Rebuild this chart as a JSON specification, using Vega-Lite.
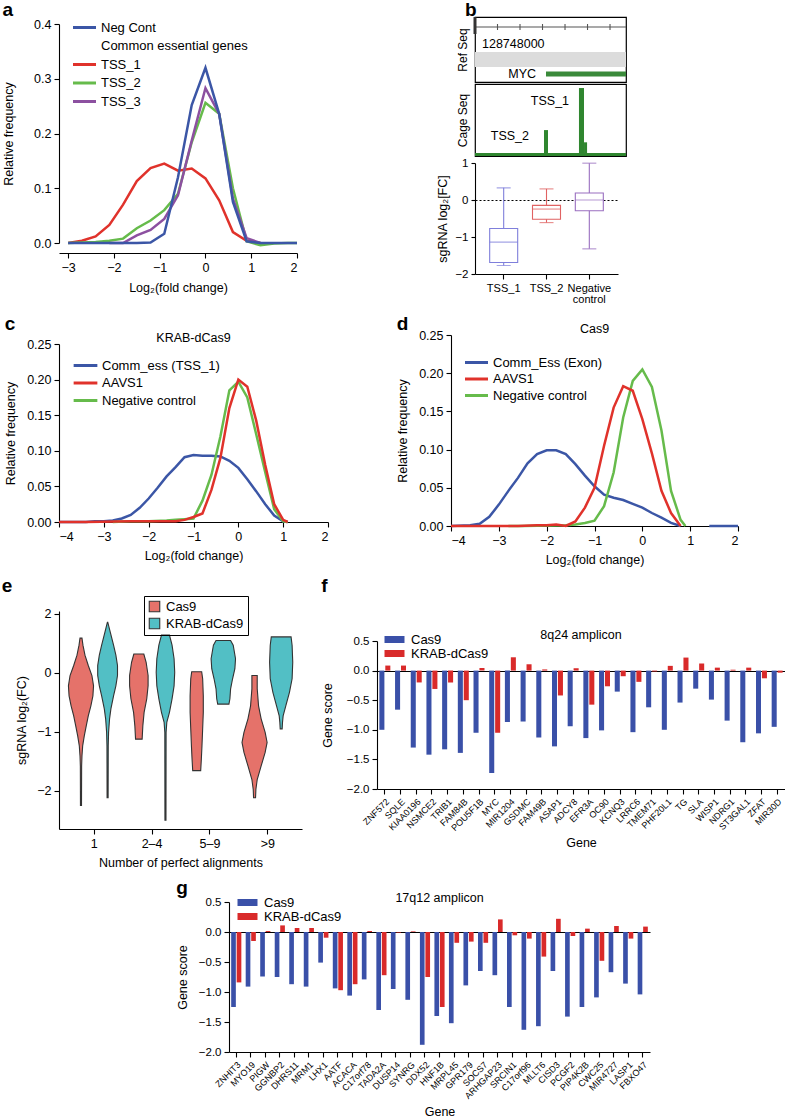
{
"$schema": "https://vega.github.io/schema/vega-lite/v6.json",
"background": "white",
"padding": {"left": 1, "top": 0, "right": 0, "bottom": 0},
"config": {
  "font": "Liberation Sans",
  "view": {"stroke": null},
  "axis": {"grid": false, "labelOverlap": false, "domainColor": "#000", "tickColor": "#000", "labelColor": "#000", "titleColor": "#000", "labelFontSize": 12.5, "titleFontSize": 12.5, "titleFontWeight": "normal", "tickSize": 5, "domainWidth": 1.1, "tickWidth": 1.1, "labelPadding": 3, "titlePadding": 7},
  "legend": {"labelFontSize": 12.5, "labelColor": "#000", "labelLimit": 300},
  "title": {"fontSize": 19, "fontWeight": "bold", "anchor": "start", "frame": "bounds", "color": "#000"}
},
"spacing": 10,
"resolve": {"scale": {"color": "independent", "xOffset": "independent", "stroke": "independent"}, "legend": {"color": "independent", "stroke": "independent"}},
"vconcat": [
 {
  "hconcat": [
   {
    "title": {"text": "a", "offset": -3},
    "spacing": 0,
    "resolve": {"scale": {"color": "independent"}, "legend": {"color": "independent"}},
    "vconcat": [
     {"width": 1, "height": 1, "data": {"values": []}, "mark": "point"},
     {
      "width": 238, "height": 219,
      "data": {"values": [
        {"s":"TSS_1","x":-3,"y":0},{"s":"TSS_1","x":-2.7,"y":0.004},{"s":"TSS_1","x":-2.4,"y":0.012},{"s":"TSS_1","x":-2.1,"y":0.033},{"s":"TSS_1","x":-1.8,"y":0.07},{"s":"TSS_1","x":-1.5,"y":0.113},{"s":"TSS_1","x":-1.2,"y":0.137},{"s":"TSS_1","x":-0.9,"y":0.145},{"s":"TSS_1","x":-0.6,"y":0.132},{"s":"TSS_1","x":-0.3,"y":0.136},{"s":"TSS_1","x":0,"y":0.118},{"s":"TSS_1","x":0.3,"y":0.078},{"s":"TSS_1","x":0.6,"y":0.02},{"s":"TSS_1","x":0.9,"y":0.004},{"s":"TSS_1","x":1.2,"y":0},
        {"s":"TSS_2","x":-3,"y":0},{"s":"TSS_2","x":-2.7,"y":0.001},{"s":"TSS_2","x":-2.4,"y":0.002},{"s":"TSS_2","x":-2.1,"y":0.004},{"s":"TSS_2","x":-1.8,"y":0.008},{"s":"TSS_2","x":-1.5,"y":0.027},{"s":"TSS_2","x":-1.2,"y":0.041},{"s":"TSS_2","x":-0.9,"y":0.06},{"s":"TSS_2","x":-0.6,"y":0.09},{"s":"TSS_2","x":-0.3,"y":0.184},{"s":"TSS_2","x":0,"y":0.256},{"s":"TSS_2","x":0.3,"y":0.236},{"s":"TSS_2","x":0.6,"y":0.1},{"s":"TSS_2","x":0.9,"y":0.003},{"s":"TSS_2","x":1.2,"y":-0.004},{"s":"TSS_2","x":1.5,"y":-0.001},{"s":"TSS_2","x":1.8,"y":0},{"s":"TSS_2","x":2,"y":0},
        {"s":"TSS_3","x":-2.1,"y":0},{"s":"TSS_3","x":-1.8,"y":0},{"s":"TSS_3","x":-1.5,"y":0.014},{"s":"TSS_3","x":-1.2,"y":0.024},{"s":"TSS_3","x":-0.9,"y":0.044},{"s":"TSS_3","x":-0.6,"y":0.087},{"s":"TSS_3","x":-0.3,"y":0.187},{"s":"TSS_3","x":0,"y":0.283},{"s":"TSS_3","x":0.3,"y":0.236},{"s":"TSS_3","x":0.6,"y":0.081},{"s":"TSS_3","x":0.9,"y":0.009},{"s":"TSS_3","x":1.2,"y":0},
        {"s":"Neg Cont","x":-3,"y":0},{"s":"Neg Cont","x":-2.7,"y":0},{"s":"Neg Cont","x":-2.4,"y":0},{"s":"Neg Cont","x":-2.1,"y":0},{"s":"Neg Cont","x":-1.8,"y":0},{"s":"Neg Cont","x":-1.5,"y":0},{"s":"Neg Cont","x":-1.2,"y":0.001},{"s":"Neg Cont","x":-0.9,"y":0.017},{"s":"Neg Cont","x":-0.6,"y":0.12},{"s":"Neg Cont","x":-0.3,"y":0.252},{"s":"Neg Cont","x":0,"y":0.32},{"s":"Neg Cont","x":0.3,"y":0.236},{"s":"Neg Cont","x":0.6,"y":0.075},{"s":"Neg Cont","x":0.9,"y":0.003},{"s":"Neg Cont","x":1.2,"y":0},{"s":"Neg Cont","x":1.5,"y":0},{"s":"Neg Cont","x":1.8,"y":0},{"s":"Neg Cont","x":2,"y":0}
      ]},
      "mark": {"type": "line", "strokeWidth": 2.5},
      "encoding": {
        "x": {"field": "x", "type": "quantitative", "scale": {"domain": [-3.2, 2], "nice": false, "zero": false}, "axis": {"values": [-3,-2,-1,0,1,2], "offset": 10, "title": "Log₂(fold change)", "titlePadding": 8}},
        "y": {"field": "y", "type": "quantitative", "scale": {"domain": [0, 0.4], "nice": false}, "axis": {"values": [0,0.1,0.2,0.3,0.4], "format": ".1f", "title": "Relative frequency", "titlePadding": 18}},
        "color": {"field": "s", "type": "nominal", "scale": {"domain": ["Neg Cont","Common essential genes","TSS_1","TSS_2","TSS_3"], "range": ["#3b56a6","transparent","#e0322b","#66bb4b","#8c50a0"]},
          "legend": {"title": null, "orient": "none", "legendX": 19, "legendY": -3, "symbolType": "M-2.5,0L2.5,0", "symbolSize": 85, "symbolStrokeWidth": 3, "rowPadding": 4.5, "labelOffset": 10, "padding": 0, "labelFontSize": 13}}
      }
     }
    ]
   },
   {
    "title": {"text": "b", "frame": "group", "dx": -10, "offset": -5},
    "spacing": 0,
    "resolve": {"scale": {"color": "independent", "stroke": "independent"}, "legend": {"color": "independent", "stroke": "independent"}},
    "vconcat": [
      {
        "width": 151, "height": 65,
        "view": {"stroke": "#000", "strokeWidth": 1.2},
        "layer": [
          {"data": {"values": [{"feature": "band", "start": 128748000, "end": 128749342}]},
           "mark": {"type": "rect", "color": "#dcdcdc"},
           "encoding": {
             "x": {"field": "start", "type": "quantitative", "scale": {"domain": [128748000, 128749342], "nice": false, "zero": false}, "axis": null},
             "x2": {"field": "end"},
             "y": {"datum": 0.231, "type": "quantitative", "scale": {"domain": [0, 1], "nice": false}, "axis": {"title": "Ref Seq", "labels": false, "ticks": false, "domain": false, "titlePadding": 6, "titleFontSize": 12}},
             "y2": {"datum": 0.462}}},
          {"data": {"values": [{"feature": "ruler", "start": 128748000, "end": 128749342}]},
           "mark": {"type": "rule", "color": "#555", "strokeWidth": 1.1},
           "encoding": {"x": {"field": "start", "type": "quantitative"}, "x2": {"field": "end"}, "y": {"datum": 0.846}}},
          {"data": {"values": [{"pos": 128748200},{"pos": 128748400},{"pos": 128748600},{"pos": 128748800},{"pos": 128749000},{"pos": 128749200}]},
           "mark": {"type": "rule", "color": "#555", "strokeWidth": 1.1},
           "encoding": {"x": {"field": "pos", "type": "quantitative"}, "y": {"datum": 0.8}, "y2": {"datum": 0.892}}},
          {"data": {"values": [{"pos": 128748000}]},
           "mark": {"type": "rule", "color": "#333", "strokeWidth": 3},
           "encoding": {"x": {"field": "pos", "type": "quantitative"}, "y": {"datum": 0.738}, "y2": {"datum": 0.999}}},
          {"data": {"values": [{"pos": 128748000, "label": "128748000"}]},
           "mark": {"type": "text", "align": "left", "dx": 7, "fontSize": 12.5, "baseline": "middle"},
           "encoding": {"x": {"field": "pos", "type": "quantitative"}, "y": {"datum": 0.585}, "text": {"field": "label"}}},
          {"data": {"values": [{"gene": "MYC", "start": 128748631, "end": 128749342}]},
           "mark": {"type": "rect", "color": "#3a8a3a"},
           "encoding": {"x": {"field": "start", "type": "quantitative"}, "x2": {"field": "end"}, "y": {"datum": 0.085}, "y2": {"datum": 0.16}}},
          {"data": {"values": [{"gene": "MYC", "start": 128748631, "end": 128749342}]},
           "mark": {"type": "text", "align": "right", "dx": -10, "fontSize": 12.5, "baseline": "middle"},
           "encoding": {"x": {"field": "start", "type": "quantitative"}, "y": {"datum": 0.123}, "text": {"field": "gene"}}}
        ]
      },
      {
        "width": 151, "height": 72,
        "view": {"stroke": "#000", "strokeWidth": 1.2},
        "layer": [
          {"data": {"values": [
             {"peak": "base", "start": 128748000, "end": 128749342, "signal": 0.04},
             {"peak": "TSS_2", "start": 128748613, "end": 128748649, "signal": 0.36},
             {"peak": "TSS_1", "start": 128748924, "end": 128748969, "signal": 0.944},
             {"peak": "TSS_1b", "start": 128748969, "end": 128748996, "signal": 0.19}]},
           "mark": {"type": "rect", "color": "#2f862f"},
           "encoding": {
             "x": {"field": "start", "type": "quantitative", "scale": {"domain": [128748000, 128749342], "nice": false, "zero": false}, "axis": null},
             "x2": {"field": "end"},
             "y": {"field": "signal", "type": "quantitative", "scale": {"domain": [0, 1], "nice": false}, "axis": {"title": "Cage Seq", "labels": false, "ticks": false, "domain": false, "titlePadding": 6, "titleFontSize": 12}},
             "y2": {"datum": 0}}},
          {"data": {"values": [{"label": "TSS_1"}]},
           "mark": {"type": "text", "align": "right", "baseline": "middle", "fontSize": 12.5},
           "encoding": {"x": {"datum": 128748836}, "y": {"datum": 0.76}, "text": {"field": "label"}}},
          {"data": {"values": [{"label": "TSS_2"}]},
           "mark": {"type": "text", "align": "right", "baseline": "middle", "fontSize": 12.5},
           "encoding": {"x": {"datum": 128748480}, "y": {"datum": 0.28}, "text": {"field": "label"}}}
        ]
      },
      {
        "width": 143, "height": 111,
        "data": {"values": [
          {"cat": "TSS_1", "lower": -1.77, "q1": -1.69, "median": -1.14, "q3": -0.77, "upper": 0.33},
          {"cat": "TSS_2", "lower": -0.61, "q1": -0.52, "median": -0.245, "q3": -0.145, "upper": 0.3},
          {"cat": "Negative control", "lower": -1.32, "q1": -0.29, "median": 0, "q3": 0.19, "upper": 0.995}
        ]},
        "layer": [
          {"mark": {"type": "rule", "strokeWidth": 1.1},
           "encoding": {
             "x": {"field": "cat", "type": "nominal", "sort": null, "scale": {"paddingInner": 0.35, "paddingOuter": 0.345}, "axis": {"title": null, "labelAngle": 0, "labelFontSize": 11, "labelLineHeight": 11, "labelExpr": "datum.value == 'Negative control' ? ['Negative', 'control'] : datum.label"}},
             "y": {"field": "lower", "type": "quantitative", "scale": {"domain": [-2, 1], "nice": false}, "axis": {"values": [-2,-1,0,1], "format": "d", "title": "sgRNA log₂[FC]", "tickSize": 4, "labelFontSize": 11.5, "titlePadding": 5, "grid": true, "gridColor": "#000", "gridDash": [2, 2], "gridWidth": 1.1, "gridOpacity": {"condition": {"test": "datum.value === 0", "value": 1}, "value": 0}}},
             "y2": {"field": "upper"},
             "color": {"field": "cat", "type": "nominal", "scale": {"domain": ["TSS_1","TSS_2","Negative control"], "range": ["#7f7fdb","#e06262","#9a6fc0"]}, "legend": null}}},
          {"mark": {"type": "bar", "fill": "white", "strokeWidth": 1.1, "size": 28},
           "encoding": {
             "x": {"field": "cat", "type": "nominal", "sort": null, "axis": {"title": null, "labelAngle": 0, "labelFontSize": 11, "labelLineHeight": 11, "labelExpr": "datum.value == 'Negative control' ? ['Negative', 'control'] : datum.label"}},
             "y": {"field": "q1", "type": "quantitative", "axis": {"values": [-2,-1,0,1], "format": "d", "title": "sgRNA log₂[FC]", "tickSize": 4, "labelFontSize": 11.5, "titlePadding": 5, "grid": true, "gridColor": "#000", "gridDash": [2, 2], "gridWidth": 1.1, "gridOpacity": {"condition": {"test": "datum.value === 0", "value": 1}, "value": 0}}},
             "y2": {"field": "q3"},
             "stroke": {"field": "cat", "type": "nominal", "scale": {"domain": ["TSS_1","TSS_2","Negative control"], "range": ["#7f7fdb","#e06262","#9a6fc0"]}, "legend": null}}},
          {"mark": {"type": "tick", "size": 28, "thickness": 1.2},
           "encoding": {
             "x": {"field": "cat", "type": "nominal", "sort": null, "axis": {"title": null, "labelAngle": 0, "labelFontSize": 11, "labelLineHeight": 11, "labelExpr": "datum.value == 'Negative control' ? ['Negative', 'control'] : datum.label"}},
             "y": {"field": "median", "type": "quantitative", "axis": {"values": [-2,-1,0,1], "format": "d", "title": "sgRNA log₂[FC]", "tickSize": 4, "labelFontSize": 11.5, "titlePadding": 5, "grid": true, "gridColor": "#000", "gridDash": [2, 2], "gridWidth": 1.1, "gridOpacity": {"condition": {"test": "datum.value === 0", "value": 1}, "value": 0}}},
             "color": {"field": "cat", "type": "nominal", "legend": null}}},
          {"mark": {"type": "tick", "size": 14, "thickness": 1.2},
           "encoding": {
             "x": {"field": "cat", "type": "nominal", "sort": null, "axis": {"title": null, "labelAngle": 0, "labelFontSize": 11, "labelLineHeight": 11, "labelExpr": "datum.value == 'Negative control' ? ['Negative', 'control'] : datum.label"}},
             "y": {"field": "lower", "type": "quantitative", "axis": {"values": [-2,-1,0,1], "format": "d", "title": "sgRNA log₂[FC]", "tickSize": 4, "labelFontSize": 11.5, "titlePadding": 5, "grid": true, "gridColor": "#000", "gridDash": [2, 2], "gridWidth": 1.1, "gridOpacity": {"condition": {"test": "datum.value === 0", "value": 1}, "value": 0}}},
             "color": {"field": "cat", "type": "nominal", "legend": null}}},
          {"mark": {"type": "tick", "size": 14, "thickness": 1.2},
           "encoding": {
             "x": {"field": "cat", "type": "nominal", "sort": null, "axis": {"title": null, "labelAngle": 0, "labelFontSize": 11, "labelLineHeight": 11, "labelExpr": "datum.value == 'Negative control' ? ['Negative', 'control'] : datum.label"}},
             "y": {"field": "upper", "type": "quantitative", "axis": {"values": [-2,-1,0,1], "format": "d", "title": "sgRNA log₂[FC]", "tickSize": 4, "labelFontSize": 11.5, "titlePadding": 5, "grid": true, "gridColor": "#000", "gridDash": [2, 2], "gridWidth": 1.1, "gridOpacity": {"condition": {"test": "datum.value === 0", "value": 1}, "value": 0}}},
             "color": {"field": "cat", "type": "nominal", "legend": null}}}
        ]
      }
    ]
   }
  ],
  "spacing": 134,
  "resolve": {"scale": {"color": "independent", "stroke": "independent"}, "legend": {"color": "independent", "stroke": "independent"}}
 },
 {
  "hconcat": [
   {
    "title": {"text": "c", "offset": -12.5},
    "spacing": 0,
    "resolve": {"scale": {"color": "independent"}, "legend": {"color": "independent"}},
    "vconcat": [
     {"width": 1, "height": 10, "data": {"values": []}, "mark": "point"},
     {
      "title": {"text": "KRAB-dCas9", "anchor": "middle", "frame": "group", "fontSize": 12.5, "fontWeight": "normal", "offset": -6},
      "width": 269, "height": 178,
      "data": {"values": [
        {"s":"Comm_ess (TSS_1)","x":-4,"y":0},{"s":"Comm_ess (TSS_1)","x":-3.8,"y":0},{"s":"Comm_ess (TSS_1)","x":-3.6,"y":0},{"s":"Comm_ess (TSS_1)","x":-3.4,"y":0},{"s":"Comm_ess (TSS_1)","x":-3.2,"y":0.001},{"s":"Comm_ess (TSS_1)","x":-3,"y":0.001},{"s":"Comm_ess (TSS_1)","x":-2.8,"y":0.002},{"s":"Comm_ess (TSS_1)","x":-2.6,"y":0.005},{"s":"Comm_ess (TSS_1)","x":-2.4,"y":0.01},{"s":"Comm_ess (TSS_1)","x":-2.2,"y":0.02},{"s":"Comm_ess (TSS_1)","x":-2,"y":0.033},{"s":"Comm_ess (TSS_1)","x":-1.8,"y":0.048},{"s":"Comm_ess (TSS_1)","x":-1.6,"y":0.064},{"s":"Comm_ess (TSS_1)","x":-1.4,"y":0.077},{"s":"Comm_ess (TSS_1)","x":-1.2,"y":0.091},{"s":"Comm_ess (TSS_1)","x":-1,"y":0.094},{"s":"Comm_ess (TSS_1)","x":-0.8,"y":0.093},{"s":"Comm_ess (TSS_1)","x":-0.6,"y":0.093},{"s":"Comm_ess (TSS_1)","x":-0.4,"y":0.092},{"s":"Comm_ess (TSS_1)","x":-0.2,"y":0.086},{"s":"Comm_ess (TSS_1)","x":0,"y":0.076},{"s":"Comm_ess (TSS_1)","x":0.2,"y":0.06},{"s":"Comm_ess (TSS_1)","x":0.4,"y":0.043},{"s":"Comm_ess (TSS_1)","x":0.6,"y":0.025},{"s":"Comm_ess (TSS_1)","x":0.8,"y":0.009},{"s":"Comm_ess (TSS_1)","x":1,"y":0.001},{"s":"Comm_ess (TSS_1)","x":1.1,"y":0},
        {"s":"Negative control","x":-2.8,"y":0},{"s":"Negative control","x":-2.4,"y":0.001},{"s":"Negative control","x":-2,"y":0.001},{"s":"Negative control","x":-1.6,"y":0.002},{"s":"Negative control","x":-1.4,"y":0.003},{"s":"Negative control","x":-1.2,"y":0.004},{"s":"Negative control","x":-1,"y":0.005},{"s":"Negative control","x":-0.8,"y":0.03},{"s":"Negative control","x":-0.6,"y":0.066},{"s":"Negative control","x":-0.4,"y":0.12},{"s":"Negative control","x":-0.2,"y":0.185},{"s":"Negative control","x":0,"y":0.197},{"s":"Negative control","x":0.2,"y":0.175},{"s":"Negative control","x":0.4,"y":0.123},{"s":"Negative control","x":0.6,"y":0.07},{"s":"Negative control","x":0.8,"y":0.018},{"s":"Negative control","x":1,"y":0.001},{"s":"Negative control","x":1.1,"y":0},
        {"s":"AAVS1","x":-4,"y":0},{"s":"AAVS1","x":-3.6,"y":0},{"s":"AAVS1","x":-3.4,"y":0},{"s":"AAVS1","x":-2.4,"y":0.001},{"s":"AAVS1","x":-1.4,"y":0.001},{"s":"AAVS1","x":-1.2,"y":0.003},{"s":"AAVS1","x":-1,"y":0.007},{"s":"AAVS1","x":-0.8,"y":0.012},{"s":"AAVS1","x":-0.6,"y":0.045},{"s":"AAVS1","x":-0.4,"y":0.09},{"s":"AAVS1","x":-0.2,"y":0.16},{"s":"AAVS1","x":0,"y":0.2},{"s":"AAVS1","x":0.2,"y":0.19},{"s":"AAVS1","x":0.4,"y":0.142},{"s":"AAVS1","x":0.6,"y":0.08},{"s":"AAVS1","x":0.8,"y":0.025},{"s":"AAVS1","x":1,"y":0.003},{"s":"AAVS1","x":1.1,"y":0}
      ]},
      "mark": {"type": "line", "strokeWidth": 2.5},
      "encoding": {
        "x": {"field": "x", "type": "quantitative", "scale": {"domain": [-4, 2], "nice": false, "zero": false}, "axis": {"values": [-4,-3,-2,-1,0,1,2], "title": "Log₂(fold change)", "titlePadding": 7}},
        "y": {"field": "y", "type": "quantitative", "scale": {"domain": [0, 0.25], "nice": false}, "axis": {"values": [0,0.05,0.1,0.15,0.2,0.25], "format": ".2f", "title": "Relative frequency", "titlePadding": 9}},
        "color": {"field": "s", "type": "nominal", "scale": {"domain": ["Comm_ess (TSS_1)","AAVS1","Negative control"], "range": ["#3b56a6","#e0322b","#66bb4b"]},
          "legend": {"title": null, "orient": "none", "legendX": 20, "legendY": 15, "symbolType": "M-2.5,0L2.5,0", "symbolSize": 90, "symbolStrokeWidth": 3, "rowPadding": 3.5, "labelOffset": 10, "padding": 0, "labelFontSize": 13}}
      }
     }
    ]
   },
   {
    "title": {"text": "d", "offset": -12.5},
    "spacing": 0,
    "resolve": {"scale": {"color": "independent"}, "legend": {"color": "independent"}},
    "vconcat": [
     {"width": 1, "height": 1, "data": {"values": []}, "mark": "point"},
     {
      "title": {"text": "Cas9", "anchor": "middle", "frame": "group", "fontSize": 12.5, "fontWeight": "normal", "offset": -6},
      "width": 287, "height": 191,
      "data": {"values": [
        {"s":"Comm_Ess (Exon)","seg":"b1","x":-4,"y":0},{"s":"Comm_Ess (Exon)","seg":"b1","x":-3.6,"y":0.001},{"s":"Comm_Ess (Exon)","seg":"b1","x":-3.4,"y":0.003},{"s":"Comm_Ess (Exon)","seg":"b1","x":-3.2,"y":0.012},{"s":"Comm_Ess (Exon)","seg":"b1","x":-3,"y":0.028},{"s":"Comm_Ess (Exon)","seg":"b1","x":-2.8,"y":0.046},{"s":"Comm_Ess (Exon)","seg":"b1","x":-2.6,"y":0.063},{"s":"Comm_Ess (Exon)","seg":"b1","x":-2.4,"y":0.082},{"s":"Comm_Ess (Exon)","seg":"b1","x":-2.2,"y":0.094},{"s":"Comm_Ess (Exon)","seg":"b1","x":-2,"y":0.099},{"s":"Comm_Ess (Exon)","seg":"b1","x":-1.8,"y":0.099},{"s":"Comm_Ess (Exon)","seg":"b1","x":-1.6,"y":0.094},{"s":"Comm_Ess (Exon)","seg":"b1","x":-1.4,"y":0.081},{"s":"Comm_Ess (Exon)","seg":"b1","x":-1.2,"y":0.066},{"s":"Comm_Ess (Exon)","seg":"b1","x":-1,"y":0.052},{"s":"Comm_Ess (Exon)","seg":"b1","x":-0.8,"y":0.041},{"s":"Comm_Ess (Exon)","seg":"b1","x":-0.6,"y":0.037},{"s":"Comm_Ess (Exon)","seg":"b1","x":-0.4,"y":0.034},{"s":"Comm_Ess (Exon)","seg":"b1","x":-0.2,"y":0.029},{"s":"Comm_Ess (Exon)","seg":"b1","x":0,"y":0.024},{"s":"Comm_Ess (Exon)","seg":"b1","x":0.2,"y":0.017},{"s":"Comm_Ess (Exon)","seg":"b1","x":0.4,"y":0.011},{"s":"Comm_Ess (Exon)","seg":"b1","x":0.6,"y":0.004},{"s":"Comm_Ess (Exon)","seg":"b1","x":0.8,"y":0},
        {"s":"Comm_Ess (Exon)","seg":"b2","x":1.4,"y":0},{"s":"Comm_Ess (Exon)","seg":"b2","x":2,"y":0},
        {"s":"Negative control","seg":"g","x":-2.8,"y":0},{"s":"Negative control","seg":"g","x":-2.5,"y":0},{"s":"Negative control","seg":"g","x":-1.6,"y":0.001},{"s":"Negative control","seg":"g","x":-1.4,"y":0.002},{"s":"Negative control","seg":"g","x":-1.2,"y":0.004},{"s":"Negative control","seg":"g","x":-1,"y":0.007},{"s":"Negative control","seg":"g","x":-0.8,"y":0.026},{"s":"Negative control","seg":"g","x":-0.6,"y":0.07},{"s":"Negative control","seg":"g","x":-0.4,"y":0.142},{"s":"Negative control","seg":"g","x":-0.2,"y":0.19},{"s":"Negative control","seg":"g","x":0,"y":0.205},{"s":"Negative control","seg":"g","x":0.2,"y":0.182},{"s":"Negative control","seg":"g","x":0.4,"y":0.125},{"s":"Negative control","seg":"g","x":0.6,"y":0.046},{"s":"Negative control","seg":"g","x":0.8,"y":0.008},{"s":"Negative control","seg":"g","x":0.9,"y":0},
        {"s":"AAVS1","seg":"r","x":-4,"y":0},{"s":"AAVS1","seg":"r","x":-2.6,"y":0},{"s":"AAVS1","seg":"r","x":-2.2,"y":0.001},{"s":"AAVS1","seg":"r","x":-2,"y":0.001},{"s":"AAVS1","seg":"r","x":-1.8,"y":0.002},{"s":"AAVS1","seg":"r","x":-1.6,"y":0},{"s":"AAVS1","seg":"r","x":-1.4,"y":0.006},{"s":"AAVS1","seg":"r","x":-1.2,"y":0.024},{"s":"AAVS1","seg":"r","x":-1,"y":0.05},{"s":"AAVS1","seg":"r","x":-0.8,"y":0.105},{"s":"AAVS1","seg":"r","x":-0.6,"y":0.155},{"s":"AAVS1","seg":"r","x":-0.4,"y":0.183},{"s":"AAVS1","seg":"r","x":-0.2,"y":0.177},{"s":"AAVS1","seg":"r","x":0,"y":0.14},{"s":"AAVS1","seg":"r","x":0.2,"y":0.095},{"s":"AAVS1","seg":"r","x":0.4,"y":0.046},{"s":"AAVS1","seg":"r","x":0.6,"y":0.017},{"s":"AAVS1","seg":"r","x":0.8,"y":0}
      ]},
      "mark": {"type": "line", "strokeWidth": 2.5},
      "encoding": {
        "x": {"field": "x", "type": "quantitative", "scale": {"domain": [-4, 2], "nice": false, "zero": false}, "axis": {"values": [-4,-3,-2,-1,0,1,2], "title": "Log₂(fold change)", "titlePadding": 7}},
        "y": {"field": "y", "type": "quantitative", "scale": {"domain": [0, 0.25], "nice": false}, "axis": {"values": [0,0.05,0.1,0.15,0.2,0.25], "format": ".2f", "title": "Relative frequency", "titlePadding": 9}},
        "detail": {"field": "seg"},
        "color": {"field": "s", "type": "nominal", "scale": {"domain": ["Comm_Ess (Exon)","AAVS1","Negative control"], "range": ["#3b56a6","#e0322b","#66bb4b"]},
          "legend": {"title": null, "orient": "none", "legendX": 19, "legendY": 21, "symbolType": "M-2.5,0L2.5,0", "symbolSize": 85, "symbolStrokeWidth": 3, "rowPadding": 2.5, "labelOffset": 10, "padding": 0, "labelFontSize": 13}}
      }
     }
    ]
   }
  ],
  "spacing": 67,
  "resolve": {"scale": {"color": "independent"}, "legend": {"color": "independent"}}
 },
 {
  "hconcat": [
   {
    "title": {"text": "e", "offset": 0, "dx": -14},
    "width": 243, "height": 218,
    "data": {"values": [
      {"grp":"g1","enz":"Cas9","v":0.59,"lo":0.763,"hi":0.797},{"grp":"g1","enz":"Cas9","v":0.47,"lo":0.746,"hi":0.814},{"grp":"g1","enz":"Cas9","v":0.3,"lo":0.711,"hi":0.849},{"grp":"g1","enz":"Cas9","v":0.125,"lo":0.654,"hi":0.906},{"grp":"g1","enz":"Cas9","v":-0.045,"lo":0.591,"hi":0.969},{"grp":"g1","enz":"Cas9","v":-0.22,"lo":0.563,"hi":0.997},{"grp":"g1","enz":"Cas9","v":-0.39,"lo":0.574,"hi":0.986},{"grp":"g1","enz":"Cas9","v":-0.56,"lo":0.609,"hi":0.951},{"grp":"g1","enz":"Cas9","v":-0.73,"lo":0.654,"hi":0.906},{"grp":"g1","enz":"Cas9","v":-0.9,"lo":0.689,"hi":0.871},{"grp":"g1","enz":"Cas9","v":-1.07,"lo":0.723,"hi":0.837},{"grp":"g1","enz":"Cas9","v":-1.24,"lo":0.751,"hi":0.809},{"grp":"g1","enz":"Cas9","v":-1.41,"lo":0.763,"hi":0.797},{"grp":"g1","enz":"Cas9","v":-1.58,"lo":0.769,"hi":0.791},{"grp":"g1","enz":"Cas9","v":-2.25,"lo":0.771,"hi":0.789},
      {"grp":"g1","enz":"KRAB-dCas9","v":0.86,"lo":1.237,"hi":1.243},{"grp":"g1","enz":"KRAB-dCas9","v":0.69,"lo":1.194,"hi":1.286},{"grp":"g1","enz":"KRAB-dCas9","v":0.47,"lo":1.137,"hi":1.343},{"grp":"g1","enz":"KRAB-dCas9","v":0.3,"lo":1.097,"hi":1.383},{"grp":"g1","enz":"KRAB-dCas9","v":0.125,"lo":1.069,"hi":1.411},{"grp":"g1","enz":"KRAB-dCas9","v":-0.045,"lo":1.069,"hi":1.411},{"grp":"g1","enz":"KRAB-dCas9","v":-0.22,"lo":1.097,"hi":1.383},{"grp":"g1","enz":"KRAB-dCas9","v":-0.39,"lo":1.137,"hi":1.343},{"grp":"g1","enz":"KRAB-dCas9","v":-0.61,"lo":1.183,"hi":1.297},{"grp":"g1","enz":"KRAB-dCas9","v":-0.78,"lo":1.206,"hi":1.274},{"grp":"g1","enz":"KRAB-dCas9","v":-1.01,"lo":1.223,"hi":1.257},{"grp":"g1","enz":"KRAB-dCas9","v":-1.24,"lo":1.229,"hi":1.251},{"grp":"g1","enz":"KRAB-dCas9","v":-2.12,"lo":1.231,"hi":1.249},
      {"grp":"g2","enz":"Cas9","v":0.32,"lo":1.694,"hi":1.866},{"grp":"g2","enz":"Cas9","v":0.18,"lo":1.654,"hi":1.906},{"grp":"g2","enz":"Cas9","v":-0.045,"lo":1.62,"hi":1.94},{"grp":"g2","enz":"Cas9","v":-0.22,"lo":1.62,"hi":1.94},{"grp":"g2","enz":"Cas9","v":-0.44,"lo":1.643,"hi":1.917},{"grp":"g2","enz":"Cas9","v":-0.67,"lo":1.689,"hi":1.871},{"grp":"g2","enz":"Cas9","v":-0.9,"lo":1.711,"hi":1.849},{"grp":"g2","enz":"Cas9","v":-1.125,"lo":1.723,"hi":1.837},
      {"grp":"g2","enz":"KRAB-dCas9","v":0.64,"lo":2.171,"hi":2.309},{"grp":"g2","enz":"KRAB-dCas9","v":0.47,"lo":2.126,"hi":2.354},{"grp":"g2","enz":"KRAB-dCas9","v":0.24,"lo":2.091,"hi":2.389},{"grp":"g2","enz":"KRAB-dCas9","v":0.01,"lo":2.08,"hi":2.4},{"grp":"g2","enz":"KRAB-dCas9","v":-0.22,"lo":2.091,"hi":2.389},{"grp":"g2","enz":"KRAB-dCas9","v":-0.44,"lo":2.126,"hi":2.354},{"grp":"g2","enz":"KRAB-dCas9","v":-0.67,"lo":2.171,"hi":2.309},{"grp":"g2","enz":"KRAB-dCas9","v":-0.84,"lo":2.217,"hi":2.263},{"grp":"g2","enz":"KRAB-dCas9","v":-1.01,"lo":2.229,"hi":2.251},{"grp":"g2","enz":"KRAB-dCas9","v":-2.5,"lo":2.231,"hi":2.249},
      {"grp":"g3","enz":"Cas9","v":0.02,"lo":2.694,"hi":2.866},{"grp":"g3","enz":"Cas9","v":-0.1,"lo":2.677,"hi":2.883},{"grp":"g3","enz":"Cas9","v":-0.39,"lo":2.666,"hi":2.894},{"grp":"g3","enz":"Cas9","v":-0.67,"lo":2.666,"hi":2.894},{"grp":"g3","enz":"Cas9","v":-0.95,"lo":2.677,"hi":2.883},{"grp":"g3","enz":"Cas9","v":-1.24,"lo":2.689,"hi":2.871},{"grp":"g3","enz":"Cas9","v":-1.47,"lo":2.7,"hi":2.86},{"grp":"g3","enz":"Cas9","v":-1.66,"lo":2.711,"hi":2.849},
      {"grp":"g3","enz":"KRAB-dCas9","v":0.55,"lo":3.114,"hi":3.366},{"grp":"g3","enz":"KRAB-dCas9","v":0.47,"lo":3.069,"hi":3.411},{"grp":"g3","enz":"KRAB-dCas9","v":0.24,"lo":3.029,"hi":3.451},{"grp":"g3","enz":"KRAB-dCas9","v":0.07,"lo":3.04,"hi":3.44},{"grp":"g3","enz":"KRAB-dCas9","v":-0.1,"lo":3.08,"hi":3.4},{"grp":"g3","enz":"KRAB-dCas9","v":-0.27,"lo":3.114,"hi":3.366},{"grp":"g3","enz":"KRAB-dCas9","v":-0.44,"lo":3.126,"hi":3.354},{"grp":"g3","enz":"KRAB-dCas9","v":-0.53,"lo":3.143,"hi":3.337},
      {"grp":"g4","enz":"Cas9","v":-0.045,"lo":3.734,"hi":3.826},{"grp":"g4","enz":"Cas9","v":-0.27,"lo":3.734,"hi":3.826},{"grp":"g4","enz":"Cas9","v":-0.56,"lo":3.711,"hi":3.849},{"grp":"g4","enz":"Cas9","v":-0.78,"lo":3.666,"hi":3.894},{"grp":"g4","enz":"Cas9","v":-1.01,"lo":3.597,"hi":3.963},{"grp":"g4","enz":"Cas9","v":-1.18,"lo":3.563,"hi":3.997},{"grp":"g4","enz":"Cas9","v":-1.35,"lo":3.597,"hi":3.963},{"grp":"g4","enz":"Cas9","v":-1.58,"lo":3.666,"hi":3.894},{"grp":"g4","enz":"Cas9","v":-1.81,"lo":3.734,"hi":3.826},{"grp":"g4","enz":"Cas9","v":-1.98,"lo":3.757,"hi":3.803},{"grp":"g4","enz":"Cas9","v":-2.12,"lo":3.763,"hi":3.797},
      {"grp":"g4","enz":"KRAB-dCas9","v":0.61,"lo":4.069,"hi":4.411},{"grp":"g4","enz":"KRAB-dCas9","v":0.47,"lo":4.051,"hi":4.429},{"grp":"g4","enz":"KRAB-dCas9","v":0.18,"lo":4.04,"hi":4.44},{"grp":"g4","enz":"KRAB-dCas9","v":-0.1,"lo":4.051,"hi":4.429},{"grp":"g4","enz":"KRAB-dCas9","v":-0.33,"lo":4.097,"hi":4.383},{"grp":"g4","enz":"KRAB-dCas9","v":-0.56,"lo":4.16,"hi":4.32},{"grp":"g4","enz":"KRAB-dCas9","v":-0.73,"lo":4.206,"hi":4.274},{"grp":"g4","enz":"KRAB-dCas9","v":-0.84,"lo":4.217,"hi":4.263},{"grp":"g4","enz":"KRAB-dCas9","v":-0.95,"lo":4.223,"hi":4.257}
    ]},
    "mark": {"type": "area", "orient": "horizontal", "stroke": "#333", "strokeWidth": 1.1},
    "encoding": {
      "y": {"field": "v", "type": "quantitative", "scale": {"domain": [-2.65, 1.05], "nice": false, "zero": false}, "axis": {"values": [-2,-1,0,1], "labelExpr": "datum.value > 0.5 ? '2' : datum.label", "title": "sgRNA log₂(FC)", "titlePadding": 8}},
      "x": {"field": "lo", "type": "quantitative", "scale": {"domain": [0.4, 4.6], "nice": false, "zero": false}, "axis": {"values": [1,2,3,4], "labelExpr": "datum.value > 3.5 ? '>9' : datum.value > 2.5 ? '5–9' : datum.value > 1.5 ? '2–4' : datum.label", "title": "Number of perfect alignments", "titlePadding": 7}},
      "x2": {"field": "hi"},
      "detail": {"field": "grp"},
      "color": {"field": "enz", "type": "nominal", "scale": {"domain": ["Cas9","KRAB-dCas9"], "range": ["#e5726a","#52bfc5"]},
        "legend": {"title": null, "orient": "none", "legendX": 85, "legendY": -15, "strokeColor": "#000", "padding": 4, "symbolType": "square", "symbolSize": 110, "symbolStrokeColor": "#333", "symbolStrokeWidth": 1.1, "labelFontSize": 13, "rowPadding": 2, "labelOffset": 5}}
    }
   },
   {
    "title": {"text": "f", "offset": 15},
    "spacing": 0,
    "resolve": {"scale": {"color": "independent", "xOffset": "independent"}, "legend": {"color": "independent"}},
    "vconcat": [
     {"width": 1, "height": 17, "data": {"values": []}, "mark": "point"},
     {
      "title": {"text": "8q24 amplicon", "anchor": "middle", "frame": "group", "fontSize": 12.5, "fontWeight": "normal", "offset": -8},
      "width": 408, "height": 148,
      "data": {"values": [
        {"gene":"ZNF572","enz":"Cas9","score":-1.0},{"gene":"ZNF572","enz":"KRAB-dCas9","score":0.085},
        {"gene":"SQLE","enz":"Cas9","score":-0.66},{"gene":"SQLE","enz":"KRAB-dCas9","score":0.085},
        {"gene":"KIAA0196","enz":"Cas9","score":-1.3},{"gene":"KIAA0196","enz":"KRAB-dCas9","score":-0.2},
        {"gene":"NSMCE2","enz":"Cas9","score":-1.42},{"gene":"NSMCE2","enz":"KRAB-dCas9","score":-0.31},
        {"gene":"TRIB1","enz":"Cas9","score":-1.33},{"gene":"TRIB1","enz":"KRAB-dCas9","score":-0.2},
        {"gene":"FAM84B","enz":"Cas9","score":-1.39},{"gene":"FAM84B","enz":"KRAB-dCas9","score":-0.5},
        {"gene":"POU5F1B","enz":"Cas9","score":-1.05},{"gene":"POU5F1B","enz":"KRAB-dCas9","score":0.045},
        {"gene":"MYC","enz":"Cas9","score":-1.73},{"gene":"MYC","enz":"KRAB-dCas9","score":-1.05},
        {"gene":"MIR1204","enz":"Cas9","score":-0.87},{"gene":"MIR1204","enz":"KRAB-dCas9","score":0.225},
        {"gene":"GSDMC","enz":"Cas9","score":-0.86},{"gene":"GSDMC","enz":"KRAB-dCas9","score":0.107},
        {"gene":"FAM49B","enz":"Cas9","score":-1.13},{"gene":"FAM49B","enz":"KRAB-dCas9","score":0.02},
        {"gene":"ASAP1","enz":"Cas9","score":-1.28},{"gene":"ASAP1","enz":"KRAB-dCas9","score":-0.42},
        {"gene":"ADCY8","enz":"Cas9","score":-0.94},{"gene":"ADCY8","enz":"KRAB-dCas9","score":0.04},
        {"gene":"EFR3A","enz":"Cas9","score":-1.14},{"gene":"EFR3A","enz":"KRAB-dCas9","score":-0.575},
        {"gene":"OC90","enz":"Cas9","score":-1.01},{"gene":"OC90","enz":"KRAB-dCas9","score":-0.265},
        {"gene":"KCNQ3","enz":"Cas9","score":-0.355},{"gene":"KCNQ3","enz":"KRAB-dCas9","score":-0.095},
        {"gene":"LRRC6","enz":"Cas9","score":-1.04},{"gene":"LRRC6","enz":"KRAB-dCas9","score":-0.19},
        {"gene":"TMEM71","enz":"Cas9","score":-0.62},{"gene":"TMEM71","enz":"KRAB-dCas9","score":-0.015},
        {"gene":"PHF20L1","enz":"Cas9","score":-1.0},{"gene":"PHF20L1","enz":"KRAB-dCas9","score":0.08},
        {"gene":"TG","enz":"Cas9","score":-0.54},{"gene":"TG","enz":"KRAB-dCas9","score":0.22},
        {"gene":"SLA","enz":"Cas9","score":-0.305},{"gene":"SLA","enz":"KRAB-dCas9","score":0.12},
        {"gene":"WISP1","enz":"Cas9","score":-0.49},{"gene":"WISP1","enz":"KRAB-dCas9","score":0.05},
        {"gene":"NDRG1","enz":"Cas9","score":-0.845},{"gene":"NDRG1","enz":"KRAB-dCas9","score":0.015},
        {"gene":"ST3GAL1","enz":"Cas9","score":-1.21},{"gene":"ST3GAL1","enz":"KRAB-dCas9","score":0.05},
        {"gene":"ZFAT","enz":"Cas9","score":-1.06},{"gene":"ZFAT","enz":"KRAB-dCas9","score":-0.13},
        {"gene":"MIR30D","enz":"Cas9","score":-0.95},{"gene":"MIR30D","enz":"KRAB-dCas9","score":-0.035}
      ]},
      "mark": {"type": "bar"},
      "encoding": {
        "x": {"field": "gene", "type": "nominal", "scale": {"domain": ["ZNF572","SQLE","KIAA0196","NSMCE2","TRIB1","FAM84B","POU5F1B","MYC","MIR1204","GSDMC","FAM49B","ASAP1","ADCY8","EFR3A","OC90","KCNQ3","LRRC6","TMEM71","PHF20L1","TG","SLA","WISP1","NDRG1","ST3GAL1","ZFAT","MIR30D"], "paddingInner": 0.3, "paddingOuter": 0.15}, "axis": {"labelAngle": -45, "labelFontSize": 9, "title": "Gene", "titlePadding": 4}},
        "xOffset": {"field": "enz", "type": "nominal", "sort": ["Cas9","KRAB-dCas9"], "scale": {"paddingInner": 0.15}},
        "y": {"field": "score", "type": "quantitative", "stack": null, "scale": {"domain": [-2, 0.5], "nice": false}, "axis": {"values": [-2,-1.5,-1,-0.5,0,0.5], "format": ".1f", "title": "Gene score", "titlePadding": 12, "labelFontSize": 11.5, "grid": true, "gridColor": "#000", "gridWidth": 1.1, "gridOpacity": {"condition": {"test": "datum.value === 0", "value": 1}, "value": 0}}},
        "color": {"field": "enz", "type": "nominal", "scale": {"domain": ["Cas9","KRAB-dCas9"], "range": ["#3a50a8","#d92a2a"]},
          "legend": {"title": null, "orient": "none", "legendX": 11, "legendY": -8, "symbolType": "M-2.5,-0.875L2.5,-0.875L2.5,0.875L-2.5,0.875Z", "symbolSize": 64, "symbolStrokeWidth": 0, "labelFontSize": 13, "rowPadding": 0, "labelOffset": 10, "padding": 0}}
      }
     }
    ]
   }
  ],
  "spacing": 19,
  "resolve": {"scale": {"color": "independent", "xOffset": "independent"}, "legend": {"color": "independent"}}
 },
 {
  "hconcat": [
   {"width": 117, "height": 2, "data": {"values": []}, "mark": "point"},
   {
    "title": {"text": "g", "offset": -7},
    "spacing": 0,
    "resolve": {"scale": {"color": "independent", "xOffset": "independent"}, "legend": {"color": "independent"}},
    "vconcat": [
     {"width": 1, "height": 1, "data": {"values": []}, "mark": "point"},
     {
      "title": {"text": "17q12 amplicon", "anchor": "middle", "frame": "group", "fontSize": 12.5, "fontWeight": "normal", "offset": -8.75},
      "width": 421, "height": 150,
      "data": {"values": [
        {"gene":"ZNHIT3","enz":"Cas9","score":-1.25},{"gene":"ZNHIT3","enz":"KRAB-dCas9","score":-0.84},
        {"gene":"MYO19","enz":"Cas9","score":-0.91},{"gene":"MYO19","enz":"KRAB-dCas9","score":-0.15},
        {"gene":"PIGW","enz":"Cas9","score":-0.74},{"gene":"PIGW","enz":"KRAB-dCas9","score":0.017},
        {"gene":"GGNBP2","enz":"Cas9","score":-0.75},{"gene":"GGNBP2","enz":"KRAB-dCas9","score":0.11},
        {"gene":"DHRS11","enz":"Cas9","score":-0.87},{"gene":"DHRS11","enz":"KRAB-dCas9","score":0.067},
        {"gene":"MRM1","enz":"Cas9","score":-0.91},{"gene":"MRM1","enz":"KRAB-dCas9","score":0.067},
        {"gene":"LHX1","enz":"Cas9","score":-0.51},{"gene":"LHX1","enz":"KRAB-dCas9","score":-0.095},
        {"gene":"AATF","enz":"Cas9","score":-0.94},{"gene":"AATF","enz":"KRAB-dCas9","score":-0.97},
        {"gene":"ACACA","enz":"Cas9","score":-1.06},{"gene":"ACACA","enz":"KRAB-dCas9","score":-0.87},
        {"gene":"C17orf78","enz":"Cas9","score":-0.79},{"gene":"C17orf78","enz":"KRAB-dCas9","score":0.017},
        {"gene":"TADA2A","enz":"Cas9","score":-1.3},{"gene":"TADA2A","enz":"KRAB-dCas9","score":-0.72},
        {"gene":"DUSP14","enz":"Cas9","score":-0.95},{"gene":"DUSP14","enz":"KRAB-dCas9","score":-0.01},
        {"gene":"SYNRG","enz":"Cas9","score":-1.13},{"gene":"SYNRG","enz":"KRAB-dCas9","score":0.01},
        {"gene":"DDX52","enz":"Cas9","score":-1.88},{"gene":"DDX52","enz":"KRAB-dCas9","score":-0.75},
        {"gene":"HNF1B","enz":"Cas9","score":-1.4},{"gene":"HNF1B","enz":"KRAB-dCas9","score":-1.25},
        {"gene":"MRPL45","enz":"Cas9","score":-1.52},{"gene":"MRPL45","enz":"KRAB-dCas9","score":-0.18},
        {"gene":"GPR179","enz":"Cas9","score":-0.89},{"gene":"GPR179","enz":"KRAB-dCas9","score":-0.16},
        {"gene":"SOCS7","enz":"Cas9","score":-0.65},{"gene":"SOCS7","enz":"KRAB-dCas9","score":-0.18},
        {"gene":"ARHGAP23","enz":"Cas9","score":-0.72},{"gene":"ARHGAP23","enz":"KRAB-dCas9","score":0.21},
        {"gene":"SRCIN1","enz":"Cas9","score":-1.25},{"gene":"SRCIN1","enz":"KRAB-dCas9","score":-0.055},
        {"gene":"C17orf96","enz":"Cas9","score":-1.63},{"gene":"C17orf96","enz":"KRAB-dCas9","score":-0.11},
        {"gene":"MLLT6","enz":"Cas9","score":-1.57},{"gene":"MLLT6","enz":"KRAB-dCas9","score":-0.41},
        {"gene":"CISD3","enz":"Cas9","score":-0.65},{"gene":"CISD3","enz":"KRAB-dCas9","score":0.22},
        {"gene":"PCGF2","enz":"Cas9","score":-1.41},{"gene":"PCGF2","enz":"KRAB-dCas9","score":-0.067},
        {"gene":"PIP4K2B","enz":"Cas9","score":-1.25},{"gene":"PIP4K2B","enz":"KRAB-dCas9","score":0.056},
        {"gene":"CWC25","enz":"Cas9","score":-1.09},{"gene":"CWC25","enz":"KRAB-dCas9","score":-0.48},
        {"gene":"MIR4727","enz":"Cas9","score":-0.67},{"gene":"MIR4727","enz":"KRAB-dCas9","score":0.1},
        {"gene":"LASP1","enz":"Cas9","score":-0.86},{"gene":"LASP1","enz":"KRAB-dCas9","score":-0.11},
        {"gene":"FBXO47","enz":"Cas9","score":-1.04},{"gene":"FBXO47","enz":"KRAB-dCas9","score":0.09}
      ]},
      "mark": {"type": "bar"},
      "encoding": {
        "x": {"field": "gene", "type": "nominal", "scale": {"domain": ["ZNHIT3","MYO19","PIGW","GGNBP2","DHRS11","MRM1","LHX1","AATF","ACACA","C17orf78","TADA2A","DUSP14","SYNRG","DDX52","HNF1B","MRPL45","GPR179","SOCS7","ARHGAP23","SRCIN1","C17orf96","MLLT6","CISD3","PCGF2","PIP4K2B","CWC25","MIR4727","LASP1","FBXO47"], "paddingInner": 0.3, "paddingOuter": 0.15}, "axis": {"labelAngle": -45, "labelFontSize": 9, "title": "Gene", "titlePadding": 5}},
        "xOffset": {"field": "enz", "type": "nominal", "sort": ["Cas9","KRAB-dCas9"], "scale": {"paddingInner": 0.15}},
        "y": {"field": "score", "type": "quantitative", "stack": null, "scale": {"domain": [-2, 0.5], "nice": false}, "axis": {"values": [-2,-1.5,-1,-0.5,0,0.5], "format": ".1f", "title": "Gene score", "titlePadding": 9, "labelFontSize": 11.5, "grid": true, "gridColor": "#000", "gridWidth": 1.1, "gridOpacity": {"condition": {"test": "datum.value === 0", "value": 1}, "value": 0}}},
        "color": {"field": "enz", "type": "nominal", "scale": {"domain": ["Cas9","KRAB-dCas9"], "range": ["#3a50a8","#d92a2a"]},
          "legend": {"title": null, "orient": "none", "legendX": 12, "legendY": -6, "symbolType": "M-2.5,-0.875L2.5,-0.875L2.5,0.875L-2.5,0.875Z", "symbolSize": 64, "symbolStrokeWidth": 0, "labelFontSize": 13, "rowPadding": 0, "labelOffset": 10, "padding": 0}}
      }
     }
    ]
   }
  ],
  "spacing": 0,
  "resolve": {"scale": {"color": "independent", "xOffset": "independent"}, "legend": {"color": "independent"}}
 }
]
}
